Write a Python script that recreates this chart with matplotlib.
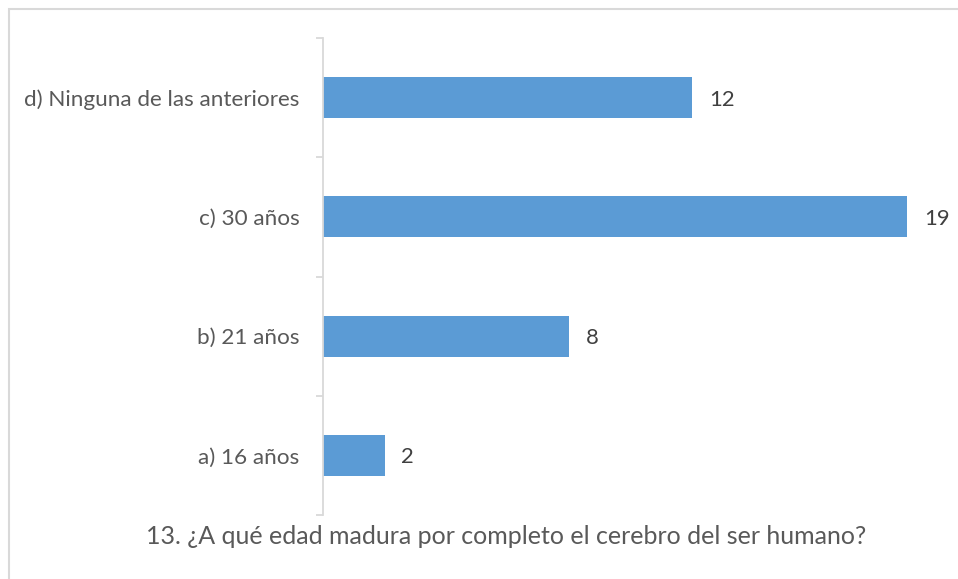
import matplotlib
matplotlib.use("Agg")
import matplotlib.pyplot as plt
from matplotlib.patches import Rectangle

categories = ["a) 16 años", "b) 21 años", "c) 30 años", "d) Ninguna de las anteriores"]
values = [2, 8, 19, 12]
title = "13. ¿A qué edad madura por completo el cerebro del ser humano?"

plt.rcParams['font.family'] = ['Lato', 'DejaVu Sans']

W, H = 958, 579
fig = plt.figure(figsize=(W / 100, H / 100), dpi=100)
fig.patch.set_facecolor("white")

# outer chart border
fig.add_artist(Rectangle((9 / W, -0.05), 1.1, 1 - 9 / H + 0.05, transform=fig.transFigure,
                         fill=False, edgecolor="#d9d9d9", linewidth=1.5))

ax = fig.add_axes([323 / W, 1 - 515 / H, 615 / W, 477 / H])
y = list(range(len(categories)))
ax.barh(y, values, height=0.345, color="#5b9bd5", zorder=2)
ax.set_xlim(0, 20)
ax.set_ylim(-0.5, len(categories) - 0.5)

for s in ["top", "right", "bottom"]:
    ax.spines[s].set_visible(False)
ax.spines["left"].set_color("#d9d9d9")
ax.spines["left"].set_linewidth(1.3)
ax.set_xticks([])
ax.set_yticks(y)
ax.set_yticklabels(categories, fontsize=16.2, color="#595959")
ax.tick_params(axis="y", which="major", length=0, pad=17)
ax.set_yticks([i - 0.5 for i in range(len(categories) + 1)], minor=True)
ax.tick_params(axis="y", which="minor", length=5, color="#d9d9d9", width=1.3)

for yi, v in zip(y, values):
    ax.annotate(str(v), (v, yi), xytext=(17, -2), textcoords="offset pixels",
                va="center", ha="left", fontsize=15.8, color="#404040")

fig.text(506 / W, 1 - 536 / H, title, ha="center", va="center", fontsize=18, color="#595959")

fig.savefig("out.png", dpi=100)
